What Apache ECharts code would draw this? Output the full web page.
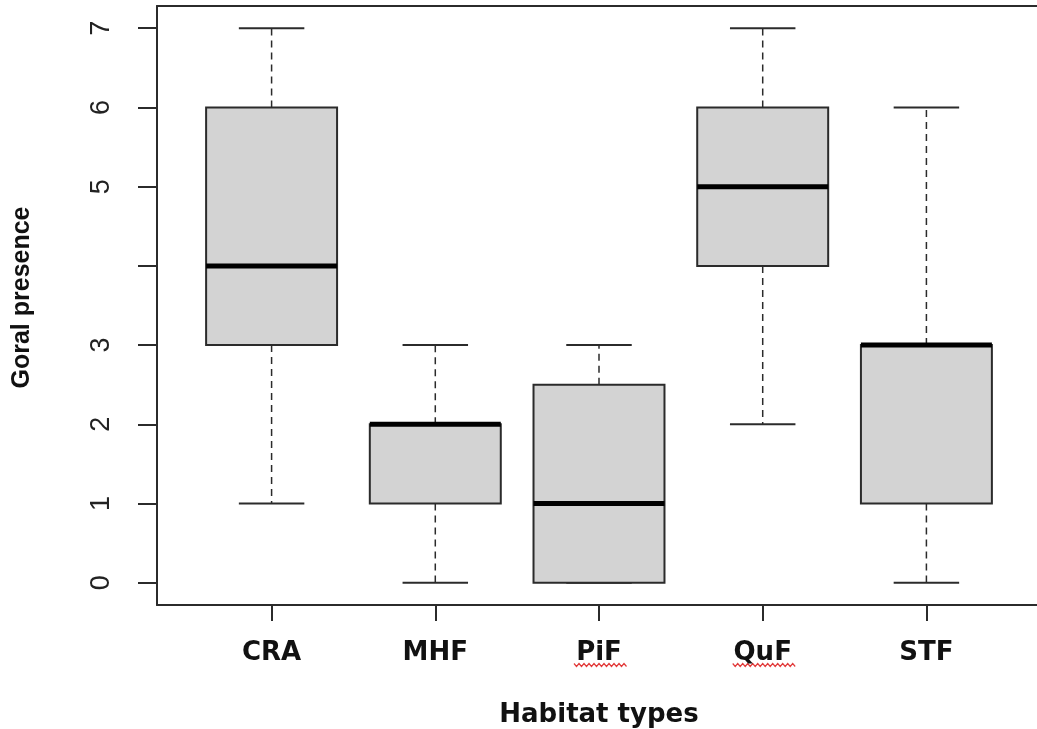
<!DOCTYPE html>
<html>
<head>
<meta charset="utf-8">
<title>Goral presence by habitat type</title>
<script src="https://cdn.jsdelivr.net/npm/echarts@6/dist/echarts.min.js"></script>
<style>
  html, body { margin: 0; padding: 0; background: #fff; }
  #chart { width: 1037px; height: 729px; }
</style>
</head>
<body>
<div id="chart"></div>
<script>
// Habitat categories and five-number summaries of goral presence
const categories = ['CRA', 'MHF', 'PiF', 'QuF', 'STF'];
const whiskerLow = [1, 0, 0, 2, 0];
const quartile1 = [3, 1, 0, 4, 1];
const medians = [4, 2, 1, 5, 3];
const quartile3 = [6, 2, 2.5, 6, 3];
const whiskerHigh = [7, 3, 3, 7, 6];

// Y axis ticks; the label at 4 is dropped to avoid overlap, as base R does
const yTicks = [0, 1, 2, 3, 4, 5, 6, 7];
const yTickLabels = [0, 1, 2, 3, 5, 6, 7];

// Labels carrying a spell-check squiggle underneath
const squiggled = ['PiF', 'QuF'];

const boxData = categories.map((c, i) => [
  i + 1, whiskerLow[i], quartile1[i], medians[i], quartile3[i], whiskerHigh[i]
]);

const chart = echarts.init(document.getElementById('chart'), null, { renderer: 'canvas' });

const INK = '#2b2b2b';

function renderBox(params, api) {
  const x = api.value(0);
  const lo = api.coord([x, api.value(1)]);
  const q1 = api.coord([x, api.value(2)]);
  const md = api.coord([x, api.value(3)]);
  const q3 = api.coord([x, api.value(4)]);
  const hi = api.coord([x, api.value(5)]);
  const boxW = api.size([0.8, 0])[0];
  const capW = boxW / 2;
  const cx = md[0];
  const dashed = { stroke: INK, lineWidth: 1.5, lineDash: [7, 5] };
  const solid = { stroke: INK, lineWidth: 2 };
  const children = [];
  // whiskers
  if (hi[1] < q3[1]) {
    children.push({ type: 'line', shape: { x1: cx, y1: q3[1], x2: cx, y2: hi[1] }, style: dashed });
  }
  if (lo[1] > q1[1]) {
    children.push({ type: 'line', shape: { x1: cx, y1: q1[1], x2: cx, y2: lo[1] }, style: dashed });
  }
  // caps
  children.push({ type: 'line', shape: { x1: cx - capW / 2, y1: hi[1], x2: cx + capW / 2, y2: hi[1] }, style: solid });
  children.push({ type: 'line', shape: { x1: cx - capW / 2, y1: lo[1], x2: cx + capW / 2, y2: lo[1] }, style: solid });
  // box
  children.push({
    type: 'rect',
    shape: { x: cx - boxW / 2, y: q3[1], width: boxW, height: q1[1] - q3[1] },
    style: { fill: '#d3d3d3', stroke: INK, lineWidth: 2 }
  });
  // median
  children.push({
    type: 'line',
    shape: { x1: cx - boxW / 2, y1: md[1], x2: cx + boxW / 2, y2: md[1] },
    style: { stroke: '#000', lineWidth: 5 }
  });
  return { type: 'group', children };
}

const frameLine = { show: true, onZero: false, lineStyle: { color: INK, width: 2 } };

chart.setOption({
  animation: false,
  backgroundColor: '#fff',
  grid: {
    left: 157, top: 6, right: -4, bottom: 124,
    outerBoundsMode: 'none',
    show: false
  },
  xAxis: [{
    type: 'value',
    min: 0.3, max: 5.7,
    splitLine: { show: false },
    axisLine: frameLine,
    axisTick: {
      show: true, length: 16, customValues: categories.map((c, i) => i + 1),
      lineStyle: { color: INK, width: 2 }
    },
    axisLabel: {
      customValues: categories.map((c, i) => i + 1),
      formatter: v => categories[Math.round(v) - 1] || '',
      margin: 35,
      color: '#111',
      fontFamily: 'DejaVu Sans',
      fontWeight: 'bold',
      fontSize: 26
    },
    name: 'Habitat types',
    nameLocation: 'middle',
    nameGap: 97,
    nameTextStyle: { color: '#111', fontFamily: 'DejaVu Sans', fontWeight: 'bold', fontSize: 26 }
  }, {
    // top edge of the plot frame
    type: 'value',
    position: 'top',
    min: 0.3, max: 5.7,
    splitLine: { show: false },
    axisLine: frameLine,
    axisTick: { show: false },
    axisLabel: { show: false }
  }],
  yAxis: {
    type: 'value',
    min: -0.28, max: 7.28,
    splitLine: { show: false },
    axisLine: frameLine,
    axisTick: {
      show: true, length: 19, customValues: yTicks,
      lineStyle: { color: INK, width: 2 }
    },
    axisLabel: {
      customValues: yTickLabels,
      rotate: 90,
      margin: 42,
      color: '#222',
      fontFamily: 'Liberation Sans',
      fontSize: 27
    },
    name: 'Goral presence',
    nameLocation: 'middle',
    nameGap: 122,
    nameRotate: 90,
    nameTextStyle: {
      color: '#111', fontFamily: 'Liberation Sans', fontWeight: 'bold', fontSize: 25,
      padding: [0, 0, 0, 16]
    }
  },
  series: [{
    type: 'custom',
    renderItem: renderBox,
    encode: { x: 0, y: [1, 2, 3, 4, 5] },
    data: boxData,
    silent: true
  }]
});

// Wavy red underline beneath the flagged category labels
function squigglePoints(cx, y, halfW) {
  const pts = [];
  const step = 2.5;
  let up = true;
  for (let x = cx - halfW; x <= cx + halfW; x += step) {
    pts.push([x, up ? y - 1.5 : y + 1.5]);
    up = !up;
  }
  return pts;
}
const squiggles = squiggled.map(name => {
  const idx = categories.indexOf(name) + 1;
  const p = chart.convertToPixel({ xAxisIndex: 0, yAxisIndex: 0 }, [idx, 0]);
  const halfW = name === 'QuF' ? 32 : 27;
  return {
    type: 'polyline',
    shape: { points: squigglePoints(p[0] + 2, 665, halfW) },
    style: { stroke: '#e23b3b', lineWidth: 1.2, fill: null },
    silent: true
  };
});
chart.setOption({ graphic: squiggles });
</script>
</body>
</html>
